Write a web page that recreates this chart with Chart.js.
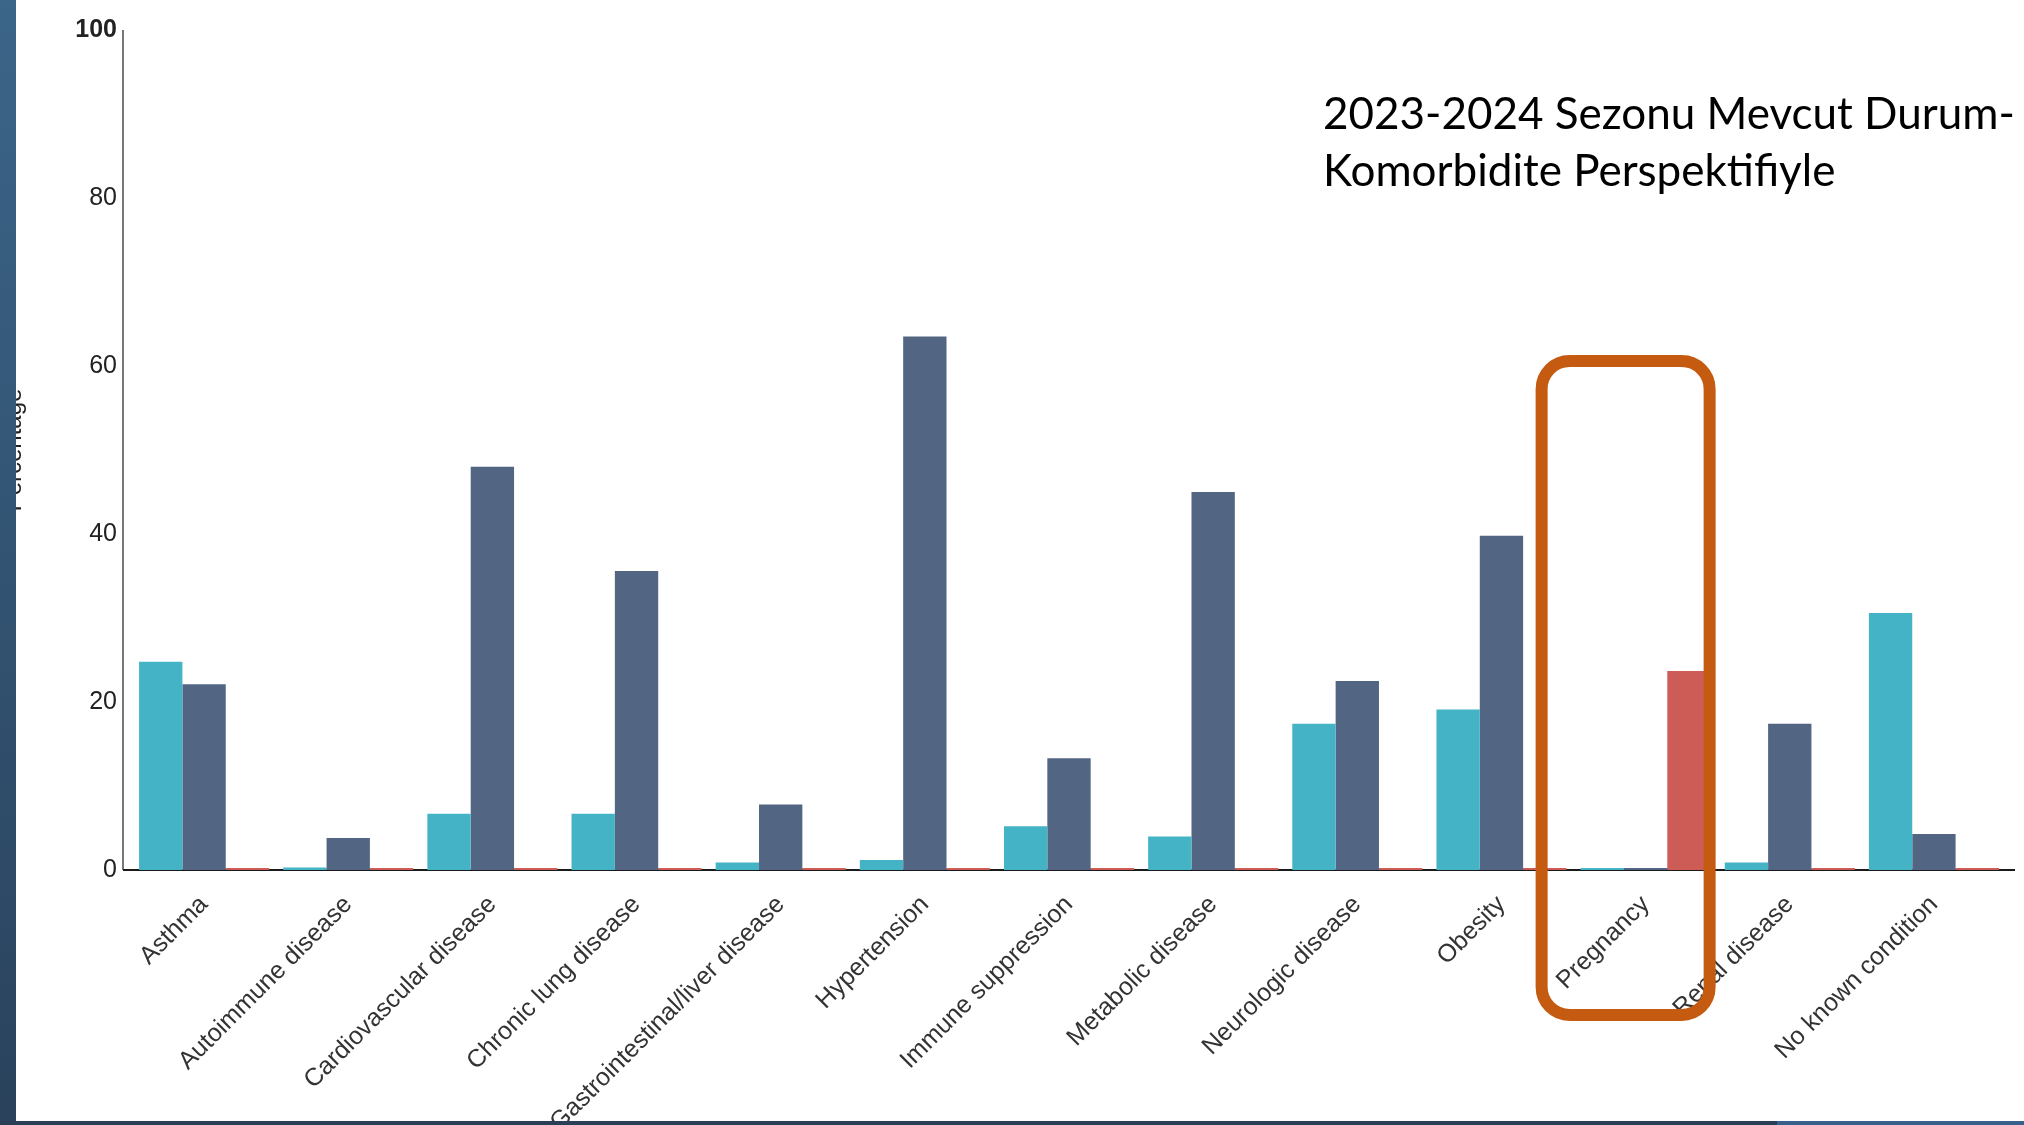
<!DOCTYPE html>
<html>
<head>
<meta charset="utf-8">
<title>2023-2024 Sezonu Mevcut Durum - Komorbidite</title>
<script src="https://cdn.jsdelivr.net/npm/chart.js@4.4.1/dist/chart.umd.min.js"></script>
<style>
    html, body { margin: 0; padding: 0; background: #fff; }
    body { width: 2024px; height: 1125px; position: relative; overflow: hidden; }
    #chart { position: absolute; left: 0; top: 0; }
    .side-bar {
        position: absolute; left: 0; top: 0; width: 16px; height: 1125px;
        background: linear-gradient(#3b6589, #2a425c);
    }
    .bottom-bar {
        position: absolute; left: 0; bottom: 0; width: 100%; height: 4px;
        background: linear-gradient(to right, #2a3f56 0, #2a3f56 1777px, #37608a 1777px);
    }
    .slide-title {
        position: absolute; left: 1323px; top: 84px;
        font-family: Lato, 'Open Sans', sans-serif; font-size: 44px; line-height: 57px;
        color: #000; white-space: nowrap;
    }
</style>
</head>
<body>
<canvas id="chart" width="2024" height="1125"></canvas>
<div class="side-bar"></div>
<div class="bottom-bar"></div>
<div class="slide-title">2023-2024 Sezonu Mevcut Durum-<br>Komorbidite Perspektifiyle</div>

<script>
const categories = [
    'Asthma', 'Autoimmune disease', 'Cardiovascular disease', 'Chronic lung disease',
    'Gastrointestinal/liver disease', 'Hypertension', 'Immune suppression', 'Metabolic disease',
    'Neurologic disease', 'Obesity', 'Pregnancy', 'Renal disease', 'No known condition'
];
const tealValues  = [24.8, 0.3, 6.7, 6.7, 0.9, 1.2, 5.2, 4.0, 17.4, 19.1, 0, 0.9, 30.6];
const slateValues = [22.1, 3.8, 48.0, 35.6, 7.8, 63.5, 13.3, 45.0, 22.5, 39.8, 0, 17.4, 4.3];
const redValues   = [0, 0, 0, 0, 0, 0, 0, 0, 0, 0, 23.7, 0, 0];
const yTicks = [0, 20, 40, 60, 80, 100];

const FONT = "'Liberation Sans', Arial, sans-serif";
const axisOverhang = 9;   // axis lines run a little past the first/last bar group

// axis lines drawn by hand so they can stick out beyond the chart area
const axisLines = {
    id: 'axisLines',
    beforeDatasetsDraw(chart) {
        const { ctx, chartArea } = chart;
        const left = chartArea.left - axisOverhang;
        ctx.save();
        ctx.lineWidth = 2;
        ctx.strokeStyle = '#777';
        ctx.beginPath();
        ctx.moveTo(left, chartArea.top);
        ctx.lineTo(left, chartArea.bottom);
        ctx.stroke();
        ctx.strokeStyle = '#1a1a1a';
        ctx.beginPath();
        ctx.moveTo(left, chartArea.bottom);
        ctx.lineTo(chartArea.right + axisOverhang, chartArea.bottom);
        ctx.stroke();
        ctx.restore();
    }
};

// rounded orange frame around the pregnancy group
const highlightBox = {
    id: 'highlightBox',
    afterDraw(chart) {
        const { ctx } = chart;
        const cx = chart.scales.x.getPixelForValue(categories.indexOf('Pregnancy'));
        ctx.save();
        ctx.strokeStyle = '#c55a11';
        ctx.lineWidth = 12;
        ctx.beginPath();
        ctx.roundRect(cx - 104, 361, 168, 654, 28);
        ctx.stroke();
        ctx.restore();
    }
};

new Chart(document.getElementById('chart'), {
    type: 'bar',
    data: {
        labels: categories,
        datasets: [
            { data: tealValues, backgroundColor: '#45b3c6' },
            { data: slateValues, backgroundColor: '#526684' },
            { data: redValues, backgroundColor: '#cd5c57' }
        ]
    },
    options: {
        responsive: false,
        animation: false,
        devicePixelRatio: 1,
        layout: { padding: { top: 26, right: 18, left: 0, bottom: 0 } },
        datasets: {
            bar: { barPercentage: 1, categoryPercentage: 0.902, minBarLength: 2, clip: false }
        },
        plugins: {
            legend: { display: false },
            tooltip: { enabled: false }
        },
        scales: {
            x: {
                grid: { display: false, drawTicks: false },
                border: { display: false },
                ticks: {
                    autoSkip: false,
                    maxRotation: 45,
                    minRotation: 45,
                    padding: 20,
                    color: '#333',
                    font: { family: FONT, size: 25 }
                },
                afterFit(scale) { scale.height = 255; }
            },
            y: {
                min: 0,
                max: 100,
                grid: { display: false, drawTicks: false },
                border: { display: false },
                afterBuildTicks(scale) { scale.ticks = yTicks.map(v => ({ value: v })); },
                ticks: {
                    padding: 15,
                    color: '#222',
                    font: (ctx) => ({
                        family: FONT,
                        size: 25,
                        weight: ctx.tick && ctx.tick.value === 100 ? 'bold' : 'normal'
                    })
                },
                title: {
                    display: true,
                    text: 'Percentage',
                    color: '#222',
                    font: { family: FONT, size: 24 },
                    padding: 0
                },
                afterFit(scale) { scale.width = 132; }
            }
        }
    },
    plugins: [axisLines, highlightBox]
});
</script>
</body>
</html>
